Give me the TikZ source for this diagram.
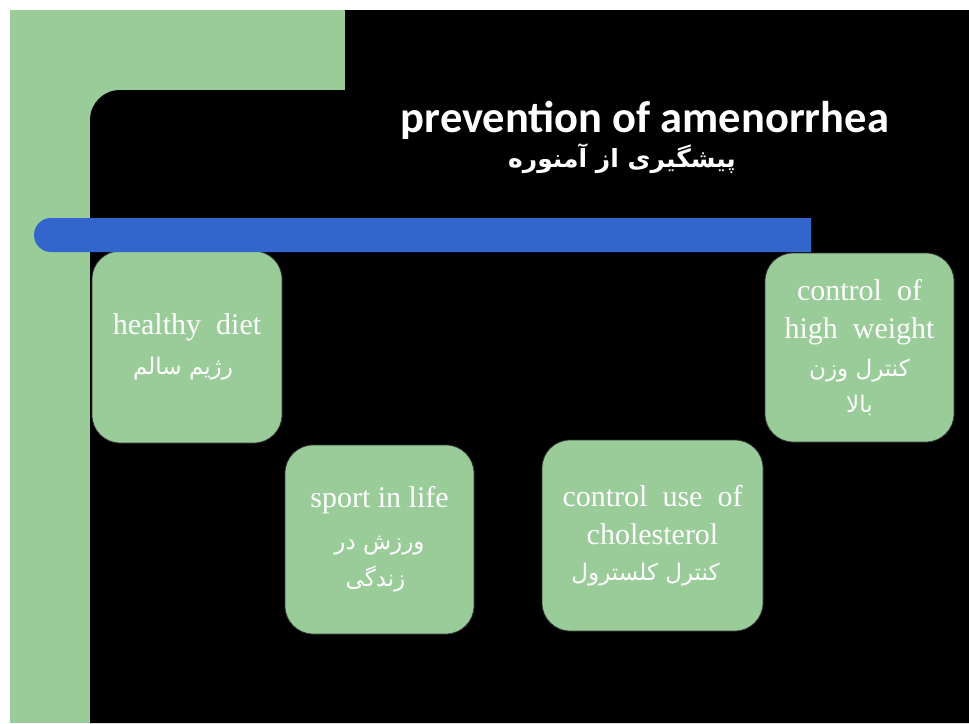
\documentclass[tikz,border=0pt]{standalone}
\usepackage{fontspec}
\setmainfont{Liberation Serif}
\newfontfamily\titlefont{Carlito}
\newfontfamily\fa[Script=Arabic]{DejaVu Sans}
\TeXXeTstate=1
\definecolor{sagegreen}{RGB}{153,204,153}
\definecolor{barblue}{RGB}{51,102,204}
\newcommand{\fatext}[1]{{\fa\fontsize{23}{37}\selectfont\beginR #1\endR}}
\tikzset{
  infobox/.style={draw=black!80, line width=0.8pt, fill=sagegreen, rounded corners=28pt,
    inner sep=0pt, text=white, align=center, font=\fontsize{30}{38}\selectfont},
}
\begin{document}
\begin{tikzpicture}[x=1pt,y=-1pt]
\useasboundingbox (0,0) rectangle (969,723);
\fill[white] (0,0) rectangle (969,723);
% green frame
\fill[sagegreen] (10,10) rectangle (345,723);
% black panel with rounded inner corner
\fill[black] (345,10) -- (969,10) -- (969,723) -- (90,723) -- (90,120)
  .. controls (90,103.4) and (103.4,90) .. (120,90) -- (345,90) -- cycle;
% boxes
\node[infobox, minimum width=190pt, minimum height=192pt] (diet) at (187,347)
  {healthy\ \ diet\\[2pt]\fatext{رژیم سالم}\hspace*{8pt}};
\node[infobox, minimum width=189pt, minimum height=189pt] (sport) at (379.5,539.5)
  {sport in life\\[4pt]\fatext{ورزش در}\hspace*{8pt}\\[-1pt]\fatext{زندگی}\hspace*{8pt}};
\node[infobox, minimum width=221pt, minimum height=191pt] (chol) at (652.5,535.5)
  {control\ \ use\ \ of\\cholesterol\\[-2pt]\fatext{کنترل کلسترول}\hspace*{14pt}};
\node[infobox, minimum width=189pt, minimum height=189pt] (weight) at (859.5,347.5)
  {control\ \ of\\high\ \ weight\\[0pt]\fatext{کنترل وزن}\\[-2pt]\fatext{بالا}};
% blue bar
\fill[barblue] (811,218) -- (51,218) .. controls (41.6,218) and (34,225.6) .. (34,235)
  .. controls (34,244.4) and (41.6,252) .. (51,252) -- (811,252) -- cycle;
% title
\node[anchor=base, text=white, font=\titlefont\bfseries\fontsize{44.5}{48}\selectfont, inner sep=0pt]
  (title) at (645,132) {prevention of amenorrhea};
\node[anchor=base, text=white, font=\fa\bfseries\fontsize{25}{30}\selectfont, inner sep=0pt]
  (titlefa) at (622,167) {\beginR پیشگیری از آمنوره\endR};
\end{tikzpicture}
\end{document}
